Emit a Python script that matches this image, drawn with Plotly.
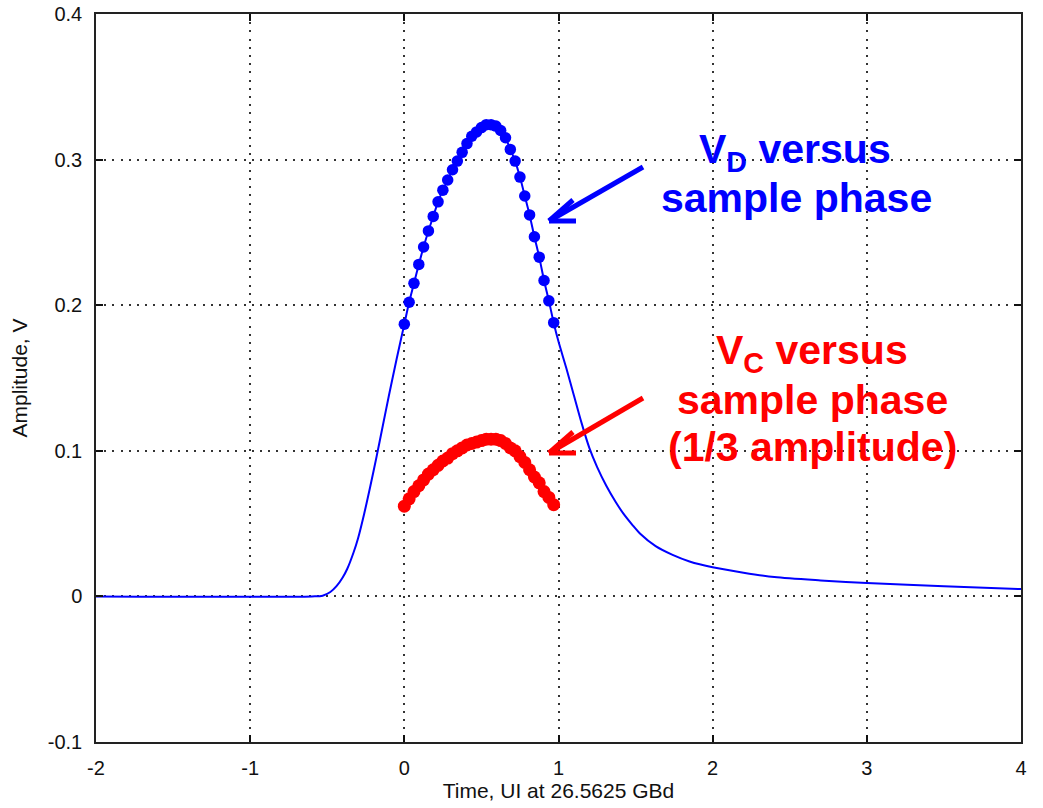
import plotly.graph_objects as go

# ---- data ----
# continuous pulse response (blue line)
LINE_X = [-2.0, -0.6, -0.53, -0.48, -0.44, -0.40, -0.37, -0.33, -0.30, -0.26, -0.22, -0.18, -0.14, -0.10, -0.05,
          0.0, 0.03125, 0.0625, 0.09375, 0.125, 0.15625, 0.1875, 0.21875, 0.25, 0.28125, 0.3125, 0.34375, 0.375,
          0.40625, 0.4375, 0.46875, 0.5, 0.53125, 0.5625, 0.59375, 0.625, 0.65625, 0.6875, 0.71875, 0.75,
          0.78125, 0.8125, 0.84375, 0.875, 0.90625, 0.9375, 0.96875,
          1.0, 1.05, 1.1, 1.15, 1.2, 1.25, 1.31, 1.37, 1.42, 1.48, 1.53, 1.63, 1.74, 1.85, 2.0, 2.2, 2.4, 2.7,
          3.0, 3.5, 4.0]
LINE_V = [0.0, 0.0, 0.0005, 0.003, 0.007, 0.013, 0.019, 0.030, 0.040, 0.057, 0.076, 0.096, 0.117, 0.138, 0.163,
          0.187, 0.202, 0.215, 0.228, 0.240, 0.251, 0.261, 0.271, 0.279, 0.286, 0.293, 0.299, 0.305,
          0.311, 0.316, 0.319, 0.322, 0.324, 0.324, 0.323, 0.320, 0.315, 0.307, 0.299, 0.288,
          0.275, 0.262, 0.247, 0.233, 0.217, 0.203, 0.188,
          0.175, 0.157, 0.138, 0.119, 0.102, 0.089, 0.076, 0.065, 0.057, 0.049, 0.043, 0.0345, 0.0285, 0.024,
          0.020, 0.0163, 0.0133, 0.011, 0.0092, 0.0069, 0.005]

# sample phases (UI)
PHASE = [0.0, 0.03125, 0.0625, 0.09375, 0.125, 0.15625, 0.1875, 0.21875, 0.25, 0.28125, 0.3125, 0.34375,
         0.375, 0.40625, 0.4375, 0.46875, 0.5, 0.53125, 0.5625, 0.59375, 0.625, 0.65625, 0.6875, 0.71875,
         0.75, 0.78125, 0.8125, 0.84375, 0.875, 0.90625, 0.9375, 0.96875]
# V_D versus sample phase
VD = [0.187, 0.202, 0.215, 0.228, 0.240, 0.251, 0.261, 0.271, 0.279, 0.286, 0.293, 0.299,
      0.305, 0.311, 0.316, 0.319, 0.322, 0.324, 0.324, 0.323, 0.320, 0.315, 0.307, 0.299,
      0.288, 0.275, 0.262, 0.247, 0.233, 0.217, 0.203, 0.188]
# V_C versus sample phase (1/3 amplitude)
VC = [0.062, 0.067, 0.072, 0.076, 0.080, 0.084, 0.087, 0.090, 0.093, 0.095, 0.098, 0.100,
      0.102, 0.104, 0.105, 0.106, 0.107, 0.108, 0.108, 0.108, 0.107, 0.105, 0.102, 0.100,
      0.096, 0.092, 0.087, 0.082, 0.078, 0.072, 0.068, 0.063]

X_TICKS = [-2, -1, 0, 1, 2, 3, 4]
X_TICKTEXT = ["-2", "-1", "0", "1", "2", "3", "4"]
Y_TICKS = [-0.1, 0, 0.1, 0.2, 0.3, 0.4]
Y_TICKTEXT = ["-0.1", "0", "0.1", "0.2", "0.3", "0.4"]

W, H = 1043, 808
ML, MR, MT, MB = 96, 22, 14, 66


def px(xp, yp):
    # screen pixel -> paper coordinates
    return (xp - ML) / (W - ML - MR), (H - MB - yp) / (H - MT - MB)


BLUE = "#0000FF"
RED = "#FF0000"
FONT = "Liberation Sans, Arial, Helvetica, sans-serif"

fig = go.Figure()
fig.add_trace(go.Scatter(x=LINE_X, y=LINE_V, mode="lines",
                         line=dict(color=BLUE, width=2, shape="spline", smoothing=0.8),
                         showlegend=False, hoverinfo="skip"))
fig.add_trace(go.Scatter(x=PHASE, y=VD, mode="markers",
                         marker=dict(color=BLUE, size=11.5, line=dict(width=0)),
                         showlegend=False))
fig.add_trace(go.Scatter(x=PHASE, y=VC, mode="markers",
                         marker=dict(color=RED, size=13, line=dict(width=0)),
                         showlegend=False))

axis_common = dict(
    showline=True, linecolor="#222", linewidth=1.5, mirror="ticks",
    ticks="inside", ticklen=7, tickcolor="#111", tickwidth=1.5,
    showgrid=True, gridcolor="#333", gridwidth=1.7, griddash="2px,6.2px",
    zeroline=False, automargin=False, ticklabeloverflow="allow",
    tickfont=dict(family=FONT, size=20, color="#111"),
)

fig.update_xaxes(range=[-2, 4], tickvals=X_TICKS, ticktext=X_TICKTEXT, ticklabelstandoff=7,
                 title=dict(text="Time, UI at 26.5625 GBd", font=dict(family=FONT, size=21, color="#111"),
                            standoff=4),
                 **axis_common)
fig.update_yaxes(range=[-0.1, 0.4], tickvals=Y_TICKS, ticktext=Y_TICKTEXT, ticklabelstandoff=8,
                 title=dict(text="Amplitude, V", font=dict(family=FONT, size=21, color="#111"),
                            standoff=14),
                 **axis_common)

# text annotations
ann_font = dict(family=FONT, size=41)
texts = [
    ("<b>V<sub>D</sub> versus</b>", 795, 152, BLUE),
    ("<b>sample phase</b>", 796, 198, BLUE),
    ("<b>V<sub>C</sub> versus</b>", 812, 353, RED),
    ("<b>sample phase</b>", 812, 400, RED),
    ("<b>(1/3 amplitude)</b>", 812, 447, RED),
]
annotations = []
for t, xp, yp, c in texts:
    ax, ay = px(xp, yp)
    annotations.append(dict(text=t, x=ax, y=ay, xref="paper", yref="paper", xanchor="center",
                            yanchor="middle", showarrow=False, font=dict(color=c, **ann_font)))

# arrows (chevron head) as shapes
shapes = []
for (tail, tip, c) in [((643, 167), (549, 221), BLUE), ((643, 398), (549, 453), RED)]:
    segs = [(tail, tip), (tip, (tip[0] + 24, tip[1] - 21)), (tip, (tip[0] + 27, tip[1] + 0))]
    for a, b in segs:
        x0, y0 = px(*a)
        x1, y1 = px(*b)
        shapes.append(dict(type="line", xref="paper", yref="paper", x0=x0, y0=y0, x1=x1, y1=y1,
                           line=dict(color=c, width=5)))

fig.update_layout(
    width=W, height=H,
    margin=dict(l=ML, r=MR, t=MT, b=MB, autoexpand=False),
    paper_bgcolor="white", plot_bgcolor="white",
    annotations=annotations, shapes=shapes,
    showlegend=False,
)

fig.write_html("out.html", config={"displayModeBar": False},
               post_script="document.body.style.margin='0px';")
